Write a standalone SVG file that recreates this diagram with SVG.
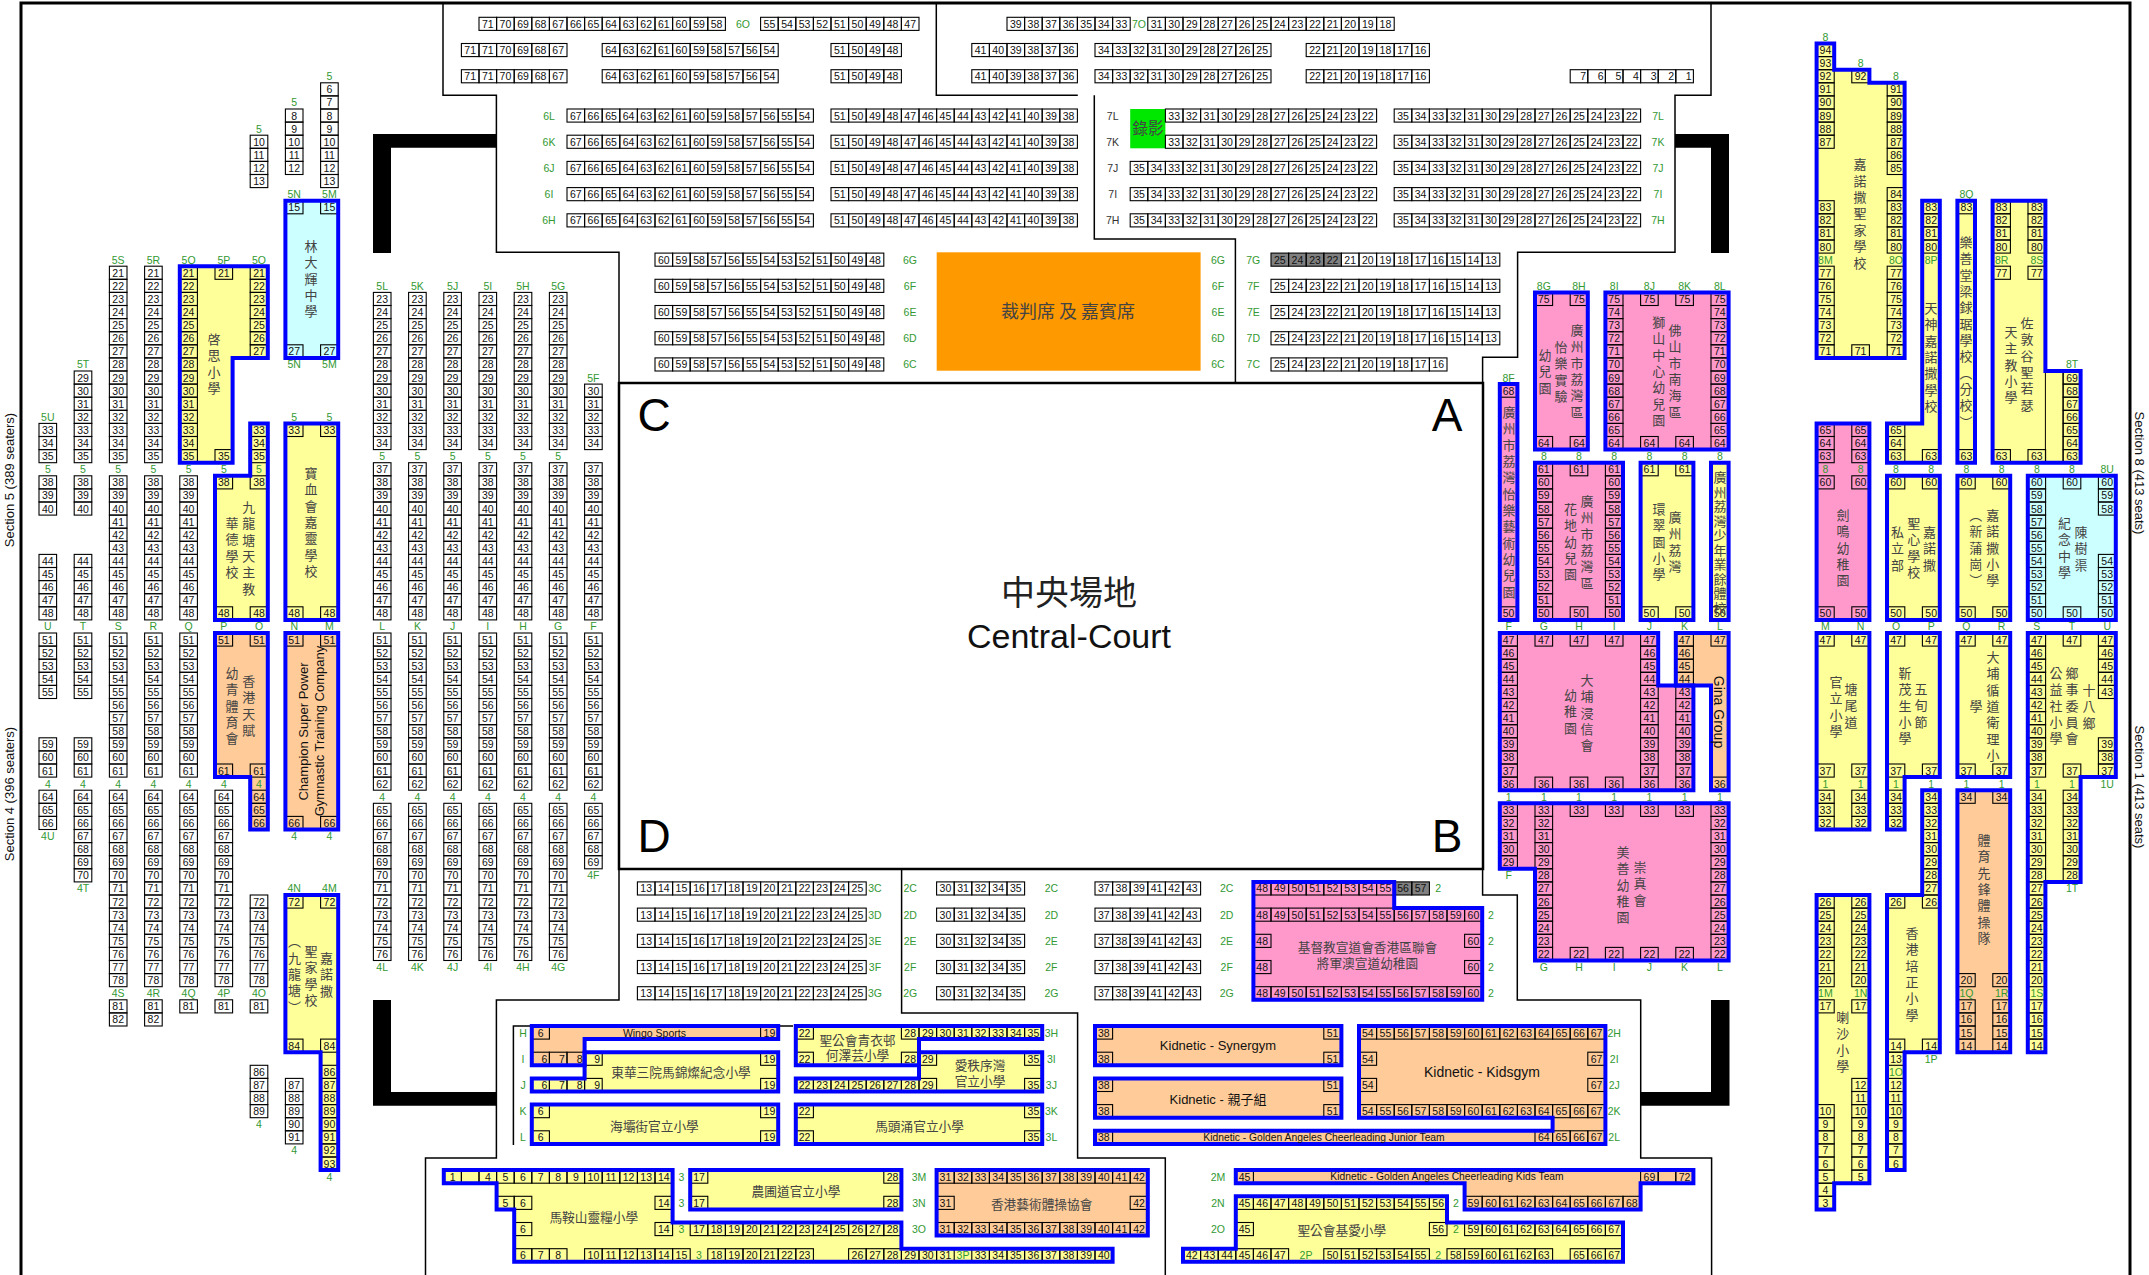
<svg xmlns="http://www.w3.org/2000/svg" width="2149" height="1275" viewBox="0 0 2149 1275">
<style>
text{font:10.5px "Liberation Sans",Arial,sans-serif;text-anchor:middle;fill:#111}
.l{fill:#339933}
.d{fill:#333}
.v rect,.h rect{width:17.6px;height:13.1px;fill:none;stroke:#000;stroke-width:1.1}
.v rect{x:-8.8px}
.h rect{y:-10.5px}
.z,.k{font-family:"Noto Sans CJK TC",sans-serif;fill:#444}
.z{font-size:13px;writing-mode:vertical-rl;letter-spacing:3.35px;text-anchor:start}
.k{font-size:12.7px}
.e{font-size:13px}
.w{fill:none;stroke:#000;stroke-width:1.5}
.t{fill:none;stroke:#00f;stroke-width:4}
</style>
<defs>
<g class="v">
<g id="a6"><rect y="82.8"/><text y="93.3">6</text><rect y="95.9"/><text y="106.4">7</text></g>
<g id="a8"><rect y="109"/><text y="119.5">8</text><rect y="122.1"/><text y="132.6">9</text></g>
<g id="a10"><rect y="135.2"/><text y="145.7">10</text><rect y="148.3"/><text y="158.8">11</text><rect y="161.4"/><text y="171.9">12</text></g>
<g id="a13"><rect y="174.5"/><text y="185">13</text></g>
<g id="a15"><rect y="200.7"/><text y="211.2">15</text></g>
<g id="a21"><rect y="266.2"/><text y="276.7">21</text></g>
<g id="a22"><rect y="279.3"/><text y="289.8">22</text></g>
<g id="a23"><rect y="292.4"/><text y="302.9">23</text><rect y="305.5"/><text y="316">24</text><rect y="318.6"/><text y="329.1">25</text><rect y="331.7"/><text y="342.2">26</text></g>
<g id="a27"><rect y="344.8"/><text y="355.3">27</text></g>
<g id="a28"><rect y="357.9"/><text y="368.4">28</text></g>
<g id="a29"><rect y="371"/><text y="381.5">29</text></g>
<g id="a30"><rect y="384.1"/><text y="394.6">30</text><rect y="397.2"/><text y="407.7">31</text><rect y="410.3"/><text y="420.8">32</text></g>
<g id="a33"><rect y="423.4"/><text y="433.9">33</text></g>
<g id="a34"><rect y="436.5"/><text y="447">34</text></g>
<g id="a35"><rect y="449.6"/><text y="460.1">35</text></g>
<g id="a37"><rect y="462.7"/><text y="473.2">37</text></g>
<g id="a38"><rect y="475.8"/><text y="486.3">38</text></g>
<g id="a39"><rect y="488.9"/><text y="499.4">39</text><rect y="502"/><text y="512.5">40</text></g>
<g id="a41"><rect y="515.1"/><text y="525.6">41</text><rect y="528.2"/><text y="538.7">42</text><rect y="541.3"/><text y="551.8">43</text></g>
<g id="a44"><rect y="554.4"/><text y="564.9">44</text><rect y="567.5"/><text y="578">45</text><rect y="580.6"/><text y="591.1">46</text><rect y="593.7"/><text y="604.2">47</text></g>
<g id="a48"><rect y="606.8"/><text y="617.3">48</text></g>
<g id="a51"><rect y="633"/><text y="643.5">51</text></g>
<g id="a52"><rect y="646.1"/><text y="656.6">52</text><rect y="659.2"/><text y="669.7">53</text><rect y="672.3"/><text y="682.8">54</text><rect y="685.4"/><text y="695.9">55</text></g>
<g id="a56"><rect y="698.5"/><text y="709">56</text><rect y="711.6"/><text y="722.1">57</text><rect y="724.7"/><text y="735.2">58</text></g>
<g id="a59"><rect y="737.8"/><text y="748.3">59</text><rect y="750.9"/><text y="761.4">60</text></g>
<g id="a61"><rect y="764"/><text y="774.5">61</text></g>
<g id="a62"><rect y="777.1"/><text y="787.6">62</text></g>
<g id="a64"><rect y="790.2"/><text y="800.7">64</text></g>
<g id="a65"><rect y="803.3"/><text y="813.8">65</text></g>
<g id="a66"><rect y="816.4"/><text y="826.9">66</text></g>
<g id="a67"><rect y="829.5"/><text y="840">67</text><rect y="842.6"/><text y="853.1">68</text><rect y="855.7"/><text y="866.2">69</text></g>
<g id="a70"><rect y="868.8"/><text y="879.3">70</text></g>
<g id="a71"><rect y="881.9"/><text y="892.4">71</text></g>
<g id="a72"><rect y="895"/><text y="905.5">72</text></g>
<g id="a73"><rect y="908.1"/><text y="918.6">73</text><rect y="921.2"/><text y="931.7">74</text><rect y="934.3"/><text y="944.8">75</text><rect y="947.4"/><text y="957.9">76</text></g>
<g id="a77"><rect y="960.5"/><text y="971">77</text><rect y="973.6"/><text y="984.1">78</text></g>
<g id="a81"><rect y="999.8"/><text y="1010.3">81</text></g>
<g id="a82"><rect y="1012.9"/><text y="1023.4">82</text></g>
<g id="a84"><rect y="1039.1"/><text y="1049.6">84</text></g>
<g id="a86"><rect y="1065.3"/><text y="1075.8">86</text></g>
<g id="a87"><rect y="1078.4"/><text y="1088.9">87</text><rect y="1091.5"/><text y="1102">88</text><rect y="1104.6"/><text y="1115.1">89</text></g>
<g id="a90"><rect y="1117.7"/><text y="1128.2">90</text><rect y="1130.8"/><text y="1141.3">91</text></g>
<g id="a92"><rect y="1143.9"/><text y="1154.4">92</text><rect y="1157"/><text y="1167.5">93</text></g>
<g id="m"><use href="#a38"/><use href="#a39"/><use href="#a41"/><use href="#a44"/><use href="#a48"/></g>
<g id="n"><use href="#a51"/><use href="#a52"/><use href="#a56"/><use href="#a59"/><use href="#a61"/></g>
<g id="o"><use href="#a65"/><use href="#a66"/><use href="#a67"/><use href="#a70"/><use href="#a71"/><use href="#a72"/><use href="#a73"/></g>
<g id="x"><use href="#a21"/><use href="#a22"/><use href="#a23"/><use href="#a27"/><use href="#a28"/><use href="#a29"/><use href="#a30"/><use href="#a33"/><use href="#a34"/><use href="#a35"/></g>
<g id="k"><use href="#a23"/><use href="#a27"/><use href="#a28"/><use href="#a29"/><use href="#a30"/><use href="#a33"/><use href="#a34"/><use href="#a37"/><use href="#m"/><use href="#n"/><use href="#a62"/><use href="#o"/></g>
<g id="ra"><rect y="43.5"/><text y="54">94</text><rect y="56.6"/><text y="67.1">93</text></g>
<g id="rb"><rect y="69.7"/><text y="80.2">92</text></g>
<g id="rc"><rect y="82.8"/><text y="93.3">91</text><rect y="95.9"/><text y="106.4">90</text><rect y="109"/><text y="119.5">89</text><rect y="122.1"/><text y="132.6">88</text><rect y="135.2"/><text y="145.7">87</text></g>
<g id="rd"><rect y="148.3"/><text y="158.8">86</text><rect y="161.4"/><text y="171.9">85</text></g>
<g id="re"><rect y="187.6"/><text y="198.1">84</text></g>
<g id="rf"><rect y="200.7"/><text y="211.2">83</text></g>
<g id="rg"><rect y="213.8"/><text y="224.3">82</text><rect y="226.9"/><text y="237.4">81</text><rect y="240"/><text y="250.5">80</text></g>
<g id="rh"><rect y="266.2"/><text y="276.7">77</text></g>
<g id="ri"><rect y="279.3"/><text y="289.8">76</text></g>
<g id="rj"><rect y="292.4"/><text y="302.9">75</text></g>
<g id="rk"><rect y="305.5"/><text y="316">74</text><rect y="318.6"/><text y="329.1">73</text><rect y="331.7"/><text y="342.2">72</text></g>
<g id="rl"><rect y="344.8"/><text y="355.3">71</text></g>
<g id="rm"><rect y="357.9"/><text y="368.4">70</text></g>
<g id="rn"><rect y="371"/><text y="381.5">69</text><rect y="384.1"/><text y="394.6">68</text><rect y="397.2"/><text y="407.7">67</text><rect y="410.3"/><text y="420.8">66</text></g>
<g id="ro"><rect y="423.4"/><text y="433.9">65</text></g>
<g id="rp"><rect y="436.5"/><text y="447">64</text></g>
<g id="rq"><rect y="449.6"/><text y="460.1">63</text></g>
<g id="rr"><rect y="462.7"/><text y="473.2">61</text></g>
<g id="rs"><rect y="475.8"/><text y="486.3">60</text></g>
<g id="rt"><rect y="488.9"/><text y="499.4">59</text><rect y="502"/><text y="512.5">58</text></g>
<g id="ru"><rect y="515.1"/><text y="525.6">57</text><rect y="528.2"/><text y="538.7">56</text><rect y="541.3"/><text y="551.8">55</text></g>
<g id="rv"><rect y="554.4"/><text y="564.9">54</text><rect y="567.5"/><text y="578">53</text><rect y="580.6"/><text y="591.1">52</text><rect y="593.7"/><text y="604.2">51</text></g>
<g id="rw"><rect y="606.8"/><text y="617.3">50</text></g>
<g id="rx"><rect y="633"/><text y="643.5">47</text></g>
<g id="ry"><rect y="646.1"/><text y="656.6">46</text><rect y="659.2"/><text y="669.7">45</text><rect y="672.3"/><text y="682.8">44</text><rect y="685.4"/><text y="695.9">43</text></g>
<g id="rz"><rect y="698.5"/><text y="709">42</text><rect y="711.6"/><text y="722.1">41</text><rect y="724.7"/><text y="735.2">40</text></g>
<g id="r1"><rect y="737.8"/><text y="748.3">39</text><rect y="750.9"/><text y="761.4">38</text></g>
<g id="r2"><rect y="764"/><text y="774.5">37</text></g>
<g id="r3"><rect y="777.1"/><text y="787.6">36</text></g>
<g id="r4"><rect y="790.2"/><text y="800.7">34</text></g>
<g id="r5"><rect y="803.3"/><text y="813.8">33</text></g>
<g id="r6"><rect y="816.4"/><text y="826.9">32</text></g>
<g id="r6b"><rect y="829.5"/><text y="840">31</text><rect y="842.6"/><text y="853.1">30</text><rect y="855.7"/><text y="866.2">29</text></g>
<g id="r7"><rect y="868.8"/><text y="879.3">28</text></g>
<g id="r8"><rect y="881.9"/><text y="892.4">27</text></g>
<g id="r9"><rect y="895"/><text y="905.5">26</text></g>
<g id="r10"><rect y="908.1"/><text y="918.6">25</text><rect y="921.2"/><text y="931.7">24</text><rect y="934.3"/><text y="944.8">23</text></g>
<g id="r11"><rect y="947.4"/><text y="957.9">22</text></g>
<g id="r12"><rect y="960.5"/><text y="971">21</text></g>
<g id="r12b"><rect y="973.6"/><text y="984.1">20</text></g>
<g id="r13"><rect y="999.8"/><text y="1010.3">17</text></g>
<g id="r13b"><rect y="1012.9"/><text y="1023.4">16</text><rect y="1026"/><text y="1036.5">15</text></g>
<g id="r14"><rect y="1039.1"/><text y="1049.6">14</text></g>
<g id="r15"><rect y="1052.2"/><text y="1062.7">13</text></g>
<g id="r16"><rect y="1078.4"/><text y="1088.9">12</text><rect y="1091.5"/><text y="1102">11</text></g>
<g id="r17"><rect y="1104.6"/><text y="1115.1">10</text><rect y="1117.7"/><text y="1128.2">9</text><rect y="1130.8"/><text y="1141.3">8</text><rect y="1143.9"/><text y="1154.4">7</text><rect y="1157"/><text y="1167.5">6</text></g>
<g id="r18"><rect y="1170.1"/><text y="1180.6">5</text></g>
<g id="r19"><rect y="1183.2"/><text y="1193.7">4</text><rect y="1196.3"/><text y="1206.8">3</text></g>
<g id="t75"><use href="#rj"/><use href="#rk"/><use href="#rl"/><use href="#rm"/><use href="#rn"/><use href="#ro"/><use href="#rp"/></g>
<g id="t60"><use href="#rs"/><use href="#rt"/><use href="#ru"/><use href="#rv"/><use href="#rw"/></g>
<g id="t47"><use href="#rx"/><use href="#ry"/><use href="#rz"/><use href="#r1"/><use href="#r2"/><use href="#r3"/></g>
<g id="t33"><use href="#r5"/><use href="#r6"/><use href="#r6b"/><use href="#r7"/><use href="#r8"/><use href="#r9"/><use href="#r10"/><use href="#r11"/></g>
</g>
<g class="h">
<rect id="w1"/>
<g id="w2"><rect/><rect x="17.6"/></g>
<g id="w3"><use href="#w2"/><rect x="35.2"/></g>
<g id="w4"><use href="#w2"/><use href="#w2" x="35.2"/></g>
<g id="w5"><use href="#w4"/><rect x="70.4"/></g>
<g id="w6"><use href="#w4"/><use href="#w2" x="70.4"/></g>
<g id="w7"><use href="#w6"/><rect x="105.6"/></g>
<g id="w8"><use href="#w4"/><use href="#w4" x="70.4"/></g>
<g id="w9"><use href="#w8"/><rect x="140.8"/></g>
<g id="w10"><use href="#w4"/><use href="#w6" x="70.4"/></g>
<g id="w12"><use href="#w6"/><use href="#w6" x="105.6"/></g>
<g id="w13"><use href="#w12"/><rect x="211.2"/></g>
<g id="w14"><use href="#w12"/><use href="#w2" x="211.2"/></g>
<g id="h1"><use href="#w14"/><text x="8.8">71</text><text x="26.4">70</text><text x="44">69</text><text x="61.6">68</text><text x="79.2">67</text><text x="96.8">66</text><text x="114.4">65</text><text x="132">64</text><text x="149.6">63</text><text x="167.2">62</text><text x="184.8">61</text><text x="202.4">60</text><text x="220">59</text><text x="237.6">58</text></g>
<g id="h1b"><use href="#w9"/><text x="8.8">55</text><text x="26.4">54</text><text x="44">53</text><text x="61.6">52</text><text x="79.2">51</text><text x="96.8">50</text><text x="114.4">49</text><text x="132">48</text><text x="149.6">47</text></g>
<g id="h39"><use href="#w7"/><text x="8.8">39</text><text x="26.4">38</text><text x="44">37</text><text x="61.6">36</text><text x="79.2">35</text><text x="96.8">34</text><text x="114.4">33</text></g>
<g id="h31"><use href="#w14"/><text x="8.8">31</text><text x="26.4">30</text><text x="44">29</text><text x="61.6">28</text><text x="79.2">27</text><text x="96.8">26</text><text x="114.4">25</text><text x="132">24</text><text x="149.6">23</text><text x="167.2">22</text><text x="184.8">21</text><text x="202.4">20</text><text x="220">19</text><text x="237.6">18</text></g>
<g id="h2"><use href="#w6"/><text x="8.8">71</text><text x="26.4">71</text><text x="44">70</text><text x="61.6">69</text><text x="79.2">68</text><text x="96.8">67</text></g>
<g id="h3"><use href="#w10"/><text x="8.8">64</text><text x="26.4">63</text><text x="44">62</text><text x="61.6">61</text><text x="79.2">60</text><text x="96.8">59</text><text x="114.4">58</text><text x="132">57</text><text x="149.6">56</text><text x="167.2">54</text></g>
<g id="h4"><use href="#w4"/><text x="8.8">51</text><text x="26.4">50</text><text x="44">49</text><text x="61.6">48</text></g>
<g id="h5"><use href="#w6"/><text x="8.8">41</text><text x="26.4">40</text><text x="44">39</text><text x="61.6">38</text><text x="79.2">37</text><text x="96.8">36</text></g>
<g id="h6"><use href="#w10"/><text x="8.8">34</text><text x="26.4">33</text><text x="44">32</text><text x="61.6">31</text><text x="79.2">30</text><text x="96.8">29</text><text x="114.4">28</text><text x="132">27</text><text x="149.6">26</text><text x="167.2">25</text></g>
<g id="h7"><use href="#w7"/><text x="8.8">22</text><text x="26.4">21</text><text x="44">20</text><text x="61.6">19</text><text x="79.2">18</text><text x="96.8">17</text><text x="114.4">16</text></g>
<g id="h8"><use href="#w7"/><text x="13">7</text><text x="30.6">6</text><text x="48.2">5</text><text x="65.8">4</text><text x="83.4">3</text><text x="101">2</text><text x="118.6">1</text></g>
<g id="r2x"><use href="#h2" x="461.4"/><use href="#h3" x="602.2"/><use href="#h4" x="831"/><use href="#h5" x="971.8"/><use href="#h6" x="1095"/><use href="#h7" x="1306.2"/></g>
<g id="h9"><use href="#w14"/><text x="8.8">67</text><text x="26.4">66</text><text x="44">65</text><text x="61.6">64</text><text x="79.2">63</text><text x="96.8">62</text><text x="114.4">61</text><text x="132">60</text><text x="149.6">59</text><text x="167.2">58</text><text x="184.8">57</text><text x="202.4">56</text><text x="220">55</text><text x="237.6">54</text></g>
<g id="h10"><use href="#w14"/><text x="8.8">51</text><text x="26.4">50</text><text x="44">49</text><text x="61.6">48</text><text x="79.2">47</text><text x="96.8">46</text><text x="114.4">45</text><text x="132">44</text><text x="149.6">43</text><text x="167.2">42</text><text x="184.8">41</text><text x="202.4">40</text><text x="220">39</text><text x="237.6">38</text></g>
<g id="h33"><use href="#w12"/><text x="8.8">33</text><text x="26.4">32</text><text x="44">31</text><text x="61.6">30</text><text x="79.2">29</text><text x="96.8">28</text><text x="114.4">27</text><text x="132">26</text><text x="149.6">25</text><text x="167.2">24</text><text x="184.8">23</text><text x="202.4">22</text></g>
<g id="h35"><use href="#w2"/><text x="8.8">35</text><text x="26.4">34</text><use href="#h33" x="35.2"/></g>
<g id="h12"><use href="#w13"/><text x="8.8">60</text><text x="26.4">59</text><text x="44">58</text><text x="61.6">57</text><text x="79.2">56</text><text x="96.8">55</text><text x="114.4">54</text><text x="132">53</text><text x="149.6">52</text><text x="167.2">51</text><text x="184.8">50</text><text x="202.4">49</text><text x="220">48</text></g>
<g id="h25"><use href="#w10"/><text x="8.8">25</text><text x="26.4">24</text><text x="44">23</text><text x="61.6">22</text><text x="79.2">21</text><text x="96.8">20</text><text x="114.4">19</text><text x="132">18</text><text x="149.6">17</text><text x="167.2">16</text></g>
<g id="h13"><use href="#w3"/><text x="8.8">15</text><text x="26.4">14</text><text x="44">13</text></g>
<g id="h15"><use href="#w13"/><text x="8.8">13</text><text x="26.4">14</text><text x="44">15</text><text x="61.6">16</text><text x="79.2">17</text><text x="96.8">18</text><text x="114.4">19</text><text x="132">20</text><text x="149.6">21</text><text x="167.2">22</text><text x="184.8">23</text><text x="202.4">24</text><text x="220">25</text></g>
<g id="h30"><use href="#w5"/><text x="8.8">30</text><text x="26.4">31</text><text x="44">32</text><text x="61.6">34</text><text x="79.2">35</text></g>
<g id="h37"><use href="#w6"/><text x="8.8">37</text><text x="26.4">38</text><text x="44">39</text><text x="61.6">41</text><text x="79.2">42</text><text x="96.8">43</text></g>
<g id="mid"><use href="#h15" x="637.4"/><use href="#h30" x="936.6"/><use href="#h37" x="1095"/></g>
<g id="h48"><use href="#w8"/><text x="8.8">48</text><text x="26.4">49</text><text x="44">50</text><text x="61.6">51</text><text x="79.2">52</text><text x="96.8">53</text><text x="114.4">54</text><text x="132">55</text></g>
<g id="h56"><use href="#w2"/><text x="8.8">56</text><text x="26.4">57</text></g>
<g id="h58"><use href="#w3"/><text x="8.8">58</text><text x="26.4">59</text><text x="44">60</text></g>
<g id="h54"><use href="#w14"/><text x="8.8">54</text><text x="26.4">55</text><text x="44">56</text><text x="61.6">57</text><text x="79.2">58</text><text x="96.8">59</text><text x="114.4">60</text><text x="132">61</text><text x="149.6">62</text><text x="167.2">63</text><text x="184.8">64</text><text x="202.4">65</text><text x="220">66</text><text x="237.6">67</text></g>
<g id="h31b"><use href="#w12"/><text x="8.8">31</text><text x="26.4">32</text><text x="44">33</text><text x="61.6">34</text><text x="79.2">35</text><text x="96.8">36</text><text x="114.4">37</text><text x="132">38</text><text x="149.6">39</text><text x="167.2">40</text><text x="184.8">41</text><text x="202.4">42</text></g>
<g id="j6"><use href="#w4"/><text x="12.6">6</text><text x="30.2">7</text><text x="47.8">8</text><text x="65.4">9</text></g>
<g id="s6"><rect x="531.8"/><text x="540.6">6</text></g>
<g id="s19"><rect x="760.6"/><text x="769.4">19</text></g>
<g id="s22"><rect x="795.8"/><text x="804.6">22</text></g>
<g id="s35"><rect x="1024.6"/><text x="1033.4">35</text></g>
<g id="s38"><rect x="1095"/><text x="1103.8">38</text></g>
<g id="s51"><rect x="1323.8"/><text x="1332.6">51</text></g>
<g id="s54"><rect x="1359"/><text x="1367.8">54</text></g>
<g id="s67"><rect x="1587.8"/><text x="1596.6">67</text></g>
</g>
<g id="by">
<path d="M179.8 266.2H267.8V357.9H232.6V462.7H179.8Z"/>
<path d="M250.2 423.4H267.8V619.9H215V475.8H250.2Z"/>
<path d="M285.4 423.4H338.2V619.9H285.4Z"/>
<path d="M285.4 895H338.2V1170.1H320.6V1052.2H285.4Z"/>
<path d="M584.6 1052.2H778.2V1091.5H531.8V1078.4H584.6Z"/>
<path d="M531.8 1104.6H778.2V1143.9H531.8Z"/>
<path d="M795.8 1026H1042.2V1039.1H919V1065.3H795.8Z"/>
<path d="M919 1052.2H1042.2V1091.5H795.8V1078.4H919Z"/>
<path d="M795.8 1104.6H1042.2V1143.9H795.8Z"/>
<path d="M443.8 1170.1H672.6V1222.5H901.4V1248.7H1112.6V1261.8H514.2V1209.4H496.6V1183.2H443.8Z"/>
<path d="M690.2 1170.1H901.4V1209.4H690.2Z"/>
<path d="M1235.8 1196.3H1447V1222.5H1623V1261.8H1183V1248.7H1235.8Z"/>
<path d="M1640.6 462.7H1693.4V619.9H1640.6Z"/>
<path d="M1711 462.7H1728.6V619.9H1711Z"/>
<path d="M1816.6 43.5H1834.2V69.7H1869.4V82.8H1904.6V357.9H1816.6Z"/>
<path d="M1922.2 200.7H1939.8V462.7H1887V423.4H1922.2Z"/>
<path d="M1957.4 200.7H1975V462.7H1957.4Z"/>
<path d="M1992.6 200.7H2045.4V371H2080.6V462.7H1992.6Z"/>
<path d="M1887 475.8H1939.8V619.9H1887Z"/>
<path d="M1957.4 475.8H2010.2V619.9H1957.4Z"/>
<path d="M1816.6 633H1869.4V829.5H1816.6Z"/>
<path d="M1887 633H1939.8V777.1H1904.6V829.5H1887Z"/>
<path d="M1922.2 790.2H1939.8V1052.2H1904.6V1170.1H1887V895H1922.2Z"/>
<path d="M1957.4 633H2010.2V777.1H1957.4Z"/>
<path d="M2027.8 633H2115.8V777.1H2080.6V881.9H2045.4V1052.2H2027.8Z"/>
<path d="M1816.6 895H1869.4V1183.2H1834.2V1209.4H1816.6Z"/>
</g>
<g id="bp">
<path d="M1535 292.4H1587.8V449.6H1535Z"/>
<path d="M1605.4 292.4H1728.6V449.6H1605.4Z"/>
<path d="M1499.8 384.1H1517.4V619.9H1499.8Z"/>
<path d="M1535 462.7H1623V619.9H1535Z"/>
<path d="M1499.8 633H1658.2V685.4H1693.4V790.2H1499.8Z"/>
<path d="M1499.8 803.3H1728.6V960.5H1535V868.8H1499.8Z"/>
<path d="M1816.6 423.4H1869.4V619.9H1816.6Z"/>
<path d="M1253.4 881.9H1394.2V908.1H1482.2V999.8H1253.4Z"/>
</g>
<g id="bo">
<path d="M215 633H267.8V829.5H250.2V777.1H215Z"/>
<path d="M285.4 633H338.2V829.5H285.4Z"/>
<path d="M1675.8 633H1728.6V790.2H1711V685.4H1675.8Z"/>
<path d="M1957.4 790.2H2010.2V1052.2H1957.4Z"/>
<path d="M531.8 1026H778.2V1039.1H584.6V1065.3H531.8Z"/>
<path d="M1095 1026H1341.4V1065.3H1095Z"/>
<path d="M1095 1078.4H1341.4V1117.7H1095Z"/>
<path d="M1359 1026H1605.4V1143.9H1095V1130.8H1552.6V1117.7H1359Z"/>
<path d="M936.6 1170.1H1147.8V1235.6H936.6Z"/>
<path d="M1235.8 1170.1H1693.4V1183.2H1640.6V1209.4H1464.6V1183.2H1235.8Z"/>
</g>
<g id="bc">
<path d="M285.4 200.7H338.2V357.9H285.4Z"/>
<path d="M2027.8 475.8H2115.8V619.9H2027.8Z"/>
</g>
</defs>

<g id="walls">
<path d="M21 1275V3H2130V1275" fill="none" stroke="#000" stroke-width="3"/>
<path class="w" d="M443 3V95.3H496.4V252.3H619V383M936.3 3V95.3H1077.8M1094.3 95.3V239H1235.4V383M1711 3V95.3H1675V252.3H1517.6V357.3H1482.6V383M619 869V1000H496.4V1158H425.5V1275M901.6 869V1013H1077.6V1158H1165.3V1275M1482.6 869V895H1517.3V1000H1640.7V1158H1711.6V1275M513.4 1145V1026H793"/>
<rect x="619" y="383" width="864" height="486" fill="none" stroke="#000" stroke-width="2.5"/>
<path d="M373 134H496V147.7H391V253H373ZM1675 134H1729V253H1711V147.7H1675ZM373 1000H391V1092H496V1105.7H373ZM1711 1000H1729.5V1105.7H1640V1092H1711Z"/>
</g>

<g id="fills">
<use href="#by" fill="#ffff99"/>
<use href="#bp" fill="#ff99cc"/>
<use href="#bo" fill="#ffcc99"/>
<use href="#bc" fill="#ccffff"/>
<rect x="936.7" y="252.3" width="263.9" height="118.4" fill="#ff9900"/>
<rect x="1130.2" y="109" width="35.2" height="39.3" fill="#00e800"/>
<rect x="1271" y="253.1" width="70.4" height="13.1" fill="#808080"/>
<rect x="1394.2" y="881.9" width="35.2" height="13.1" fill="#808080"/>
</g>

<g id="seats-left">
<g transform="translate(47.8 0)"><use href="#a33"/><use href="#a34"/><use href="#a35"/><use href="#a38"/><use href="#a39"/><use href="#a44"/><use href="#a48"/><use href="#a51"/><use href="#a52"/><use href="#a59"/><use href="#a61"/><use href="#a64"/><use href="#a65"/><use href="#a66"/><text class="l" y="420.8">5U</text><text class="l" y="473.2">5</text><text class="l" y="630.4">U</text><text class="l" y="787.6">4</text><text class="l" y="840">4U</text></g>
<g transform="translate(83 0)"><use href="#a29"/><use href="#a30"/><use href="#a33"/><use href="#a34"/><use href="#a35"/><use href="#a38"/><use href="#a39"/><use href="#a44"/><use href="#a48"/><use href="#a51"/><use href="#a52"/><use href="#a59"/><use href="#a61"/><use href="#a64"/><use href="#a65"/><use href="#a66"/><use href="#a67"/><use href="#a70"/><text class="l" y="368.4">5T</text><text class="l" y="473.2">5</text><text class="l" y="630.4">T</text><text class="l" y="787.6">4</text><text class="l" y="892.4">4T</text></g>
<g transform="translate(118.2 0)"><use href="#x"/><use href="#m"/><use href="#n"/><use href="#a64"/><use href="#o"/><use href="#a77"/><use href="#a81"/><use href="#a82"/><text class="l" y="263.6">5S</text><text class="l" y="473.2">5</text><text class="l" y="630.4">S</text><text class="l" y="787.6">4</text><text class="l" y="997.2">4S</text></g>
<g transform="translate(153.4 0)"><use href="#x"/><use href="#m"/><use href="#n"/><use href="#a64"/><use href="#o"/><use href="#a77"/><use href="#a81"/><use href="#a82"/><text class="l" y="263.6">5R</text><text class="l" y="473.2">5</text><text class="l" y="630.4">R</text><text class="l" y="787.6">4</text><text class="l" y="997.2">4R</text></g>
<g transform="translate(188.6 0)"><use href="#x"/><use href="#m"/><use href="#n"/><use href="#a64"/><use href="#o"/><use href="#a77"/><use href="#a81"/><text class="l" y="263.6">5Q</text><text class="l" y="473.2">5</text><text class="l" y="630.4">Q</text><text class="l" y="787.6">4</text><text class="l" y="997.2">4Q</text></g>
<g transform="translate(223.8 0)"><use href="#a21"/><use href="#a35"/><use href="#a38"/><use href="#a48"/><use href="#a51"/><use href="#a61"/><use href="#a64"/><use href="#o"/><use href="#a77"/><use href="#a81"/><text class="l" y="263.6">5P</text><text class="l" y="473.2">5</text><text class="l" y="630.4">P</text><text class="l" y="787.6">4</text><text class="l" y="997.2">4P</text></g>
<g transform="translate(259 0)"><use href="#a10"/><use href="#a13"/><use href="#a21"/><use href="#a22"/><use href="#a23"/><use href="#a27"/><use href="#a33"/><use href="#a34"/><use href="#a35"/><use href="#a38"/><use href="#a48"/><use href="#a51"/><use href="#a61"/><use href="#a64"/><use href="#a65"/><use href="#a66"/><use href="#a72"/><use href="#a73"/><use href="#a77"/><use href="#a81"/><use href="#a86"/><use href="#a87"/><text class="l" y="132.6">5</text><text class="l" y="263.6">5O</text><text class="l" y="473.2">5</text><text class="l" y="630.4">O</text><text class="l" y="787.6">4</text><text class="l" y="997.2">4O</text><text class="l" y="1128.2">4</text></g>
<g transform="translate(294.2 0)"><use href="#a8"/><use href="#a10"/><use href="#a15"/><use href="#a27"/><use href="#a33"/><use href="#a48"/><use href="#a51"/><use href="#a66"/><use href="#a72"/><use href="#a84"/><use href="#a87"/><use href="#a90"/><text class="l" y="106.4">5</text><text class="l" y="198.1">5N</text><text class="l" y="368.4">5N</text><text class="l" y="420.8">5</text><text class="l" y="630.4">N</text><text class="l" y="840">4</text><text class="l" y="892.4">4N</text><text class="l" y="1154.4">4</text></g>
<g transform="translate(329.4 0)"><use href="#a6"/><use href="#a8"/><use href="#a10"/><use href="#a13"/><use href="#a15"/><use href="#a27"/><use href="#a33"/><use href="#a48"/><use href="#a51"/><use href="#a66"/><use href="#a72"/><use href="#a84"/><use href="#a86"/><use href="#a87"/><use href="#a90"/><use href="#a92"/><text class="l" y="80.2">5</text><text class="l" y="198.1">5M</text><text class="l" y="368.4">5M</text><text class="l" y="420.8">5</text><text class="l" y="630.4">M</text><text class="l" y="840">4</text><text class="l" y="892.4">4M</text><text class="l" y="1180.6">4</text></g>
<g transform="translate(382.2 0)"><use href="#k"/><text class="l" y="289.8">5L</text><text class="l" y="460.1">5</text><text class="l" y="630.4">L</text><text class="l" y="800.7">4</text><text class="l" y="971">4L</text></g>
<g transform="translate(417.4 0)"><use href="#k"/><text class="l" y="289.8">5K</text><text class="l" y="460.1">5</text><text class="l" y="630.4">K</text><text class="l" y="800.7">4</text><text class="l" y="971">4K</text></g>
<g transform="translate(452.6 0)"><use href="#k"/><text class="l" y="289.8">5J</text><text class="l" y="460.1">5</text><text class="l" y="630.4">J</text><text class="l" y="800.7">4</text><text class="l" y="971">4J</text></g>
<g transform="translate(487.8 0)"><use href="#k"/><text class="l" y="289.8">5I</text><text class="l" y="460.1">5</text><text class="l" y="630.4">I</text><text class="l" y="800.7">4</text><text class="l" y="971">4I</text></g>
<g transform="translate(523 0)"><use href="#k"/><text class="l" y="289.8">5H</text><text class="l" y="460.1">5</text><text class="l" y="630.4">H</text><text class="l" y="800.7">4</text><text class="l" y="971">4H</text></g>
<g transform="translate(558.2 0)"><use href="#k"/><text class="l" y="289.8">5G</text><text class="l" y="460.1">5</text><text class="l" y="630.4">G</text><text class="l" y="800.7">4</text><text class="l" y="971">4G</text></g>
<g transform="translate(593.4 0)"><use href="#a30"/><use href="#a33"/><use href="#a34"/><use href="#a37"/><use href="#m"/><use href="#n"/><use href="#a62"/><use href="#a65"/><use href="#a66"/><use href="#a67"/><text class="l" y="381.5">5F</text><text class="l" y="630.4">F</text><text class="l" y="800.7">4</text><text class="l" y="879.3">4F</text></g>
</g>

<g id="seats-right">
<g transform="translate(1508.6 0)"><g class="v"><rect y="384.1"/><text y="394.6">68</text></g><use href="#rw"/><use href="#t47"/><use href="#r5"/><use href="#r6"/><use href="#r6b"/><text class="l" y="381.5">8F</text><text class="l" y="630.4">F</text><text class="l" y="800.7">1</text><text class="l" y="879.3">F</text></g>
<g transform="translate(1543.8 0)"><use href="#rj"/><use href="#rp"/><use href="#rr"/><use href="#t60"/><use href="#rx"/><use href="#r3"/><use href="#t33"/><text class="l" y="289.8">8G</text><text class="l" y="460.1">8</text><text class="l" y="630.4">G</text><text class="l" y="800.7">1</text><text class="l" y="971">G</text></g>
<g transform="translate(1579 0)"><use href="#rj"/><use href="#rp"/><use href="#rr"/><use href="#rw"/><use href="#rx"/><use href="#r3"/><use href="#r5"/><use href="#r11"/><text class="l" y="289.8">8H</text><text class="l" y="460.1">8</text><text class="l" y="630.4">H</text><text class="l" y="800.7">1</text><text class="l" y="971">H</text></g>
<g transform="translate(1614.2 0)"><use href="#t75"/><use href="#rr"/><use href="#t60"/><use href="#rx"/><use href="#r3"/><use href="#r5"/><use href="#r11"/><text class="l" y="289.8">8I</text><text class="l" y="460.1">8</text><text class="l" y="630.4">I</text><text class="l" y="800.7">1</text><text class="l" y="971">I</text></g>
<g transform="translate(1649.4 0)"><use href="#rj"/><use href="#rp"/><use href="#rr"/><use href="#rw"/><use href="#t47"/><use href="#r5"/><use href="#r11"/><text class="l" y="289.8">8J</text><text class="l" y="460.1">8</text><text class="l" y="630.4">J</text><text class="l" y="800.7">1</text><text class="l" y="971">J</text></g>
<g transform="translate(1684.6 0)"><use href="#rj"/><use href="#rp"/><use href="#rr"/><use href="#rw"/><use href="#t47"/><use href="#r5"/><use href="#r11"/><text class="l" y="289.8">8K</text><text class="l" y="460.1">8</text><text class="l" y="630.4">K</text><text class="l" y="800.7">1</text><text class="l" y="971">K</text></g>
<g transform="translate(1719.8 0)"><use href="#t75"/><use href="#rw"/><use href="#rx"/><use href="#r3"/><use href="#t33"/><text class="l" y="289.8">8L</text><text class="l" y="460.1">8</text><text class="l" y="630.4">L</text><text class="l" y="800.7">1</text><text class="l" y="971">L</text></g>
<g transform="translate(1825.4 0)"><use href="#ra"/><use href="#rb"/><use href="#rc"/><use href="#rf"/><use href="#rg"/><use href="#rh"/><use href="#ri"/><use href="#rj"/><use href="#rk"/><use href="#rl"/><use href="#ro"/><use href="#rp"/><use href="#rq"/><use href="#rs"/><use href="#rw"/><use href="#rx"/><use href="#r2"/><use href="#r4"/><use href="#r5"/><use href="#r6"/><use href="#r9"/><use href="#r10"/><use href="#r11"/><use href="#r12"/><use href="#r12b"/><use href="#r13"/><use href="#r17"/><use href="#r18"/><use href="#r19"/><text class="l" y="40.9">8</text><text class="l" y="263.6">8M</text><text class="l" y="473.2">8</text><text class="l" y="630.4">M</text><text class="l" y="787.6">1</text><text class="l" y="997.2">1M</text></g>
<g transform="translate(1860.6 0)"><use href="#rb"/><use href="#rl"/><use href="#ro"/><use href="#rp"/><use href="#rq"/><use href="#rs"/><use href="#rw"/><use href="#rx"/><use href="#r2"/><use href="#r4"/><use href="#r5"/><use href="#r6"/><use href="#r9"/><use href="#r10"/><use href="#r11"/><use href="#r12"/><use href="#r12b"/><use href="#r13"/><use href="#r16"/><use href="#r17"/><use href="#r18"/><text class="l" y="67.1">8</text><text class="l" y="473.2">8</text><text class="l" y="630.4">N</text><text class="l" y="787.6">1</text><text class="l" y="997.2">1N</text></g>
<g transform="translate(1896 0)"><use href="#rc"/><use href="#rd"/><use href="#re"/><use href="#rf"/><use href="#rg"/><use href="#rh"/><use href="#ri"/><use href="#rj"/><use href="#rk"/><use href="#rl"/><use href="#ro"/><use href="#rp"/><use href="#rq"/><use href="#rs"/><use href="#rw"/><use href="#rx"/><use href="#r2"/><use href="#r4"/><use href="#r5"/><use href="#r6"/><use href="#r9"/><use href="#r14"/><use href="#r15"/><use href="#r16"/><use href="#r17"/><text class="l" y="80.2">8</text><text class="l" y="263.6">8O</text><text class="l" y="473.2">8</text><text class="l" y="630.4">O</text><text class="l" y="787.6">1</text><text class="l" y="1075.8">1O</text></g>
<g transform="translate(1931.2 0)"><use href="#rf"/><use href="#rg"/><use href="#rq"/><use href="#rs"/><use href="#rw"/><use href="#rx"/><use href="#r2"/><use href="#r4"/><use href="#r5"/><use href="#r6"/><use href="#r6b"/><use href="#r7"/><use href="#r8"/><use href="#r9"/><use href="#r14"/><text class="l" y="263.6">8P</text><text class="l" y="473.2">8</text><text class="l" y="630.4">P</text><text class="l" y="787.6">1</text><text class="l" y="1062.7">1P</text></g>
<g transform="translate(1966.4 0)"><use href="#rf"/><use href="#rq"/><use href="#rs"/><use href="#rw"/><use href="#rx"/><use href="#r2"/><use href="#r4"/><use href="#r12b"/><use href="#r13"/><use href="#r13b"/><use href="#r14"/><text class="l" y="198.1">8Q</text><text class="l" y="473.2">8</text><text class="l" y="630.4">Q</text><text class="l" y="787.6">1</text><text class="l" y="997.2">1Q</text></g>
<g transform="translate(2001.6 0)"><use href="#rf"/><use href="#rg"/><use href="#rh"/><use href="#rq"/><use href="#rs"/><use href="#rw"/><use href="#rx"/><use href="#r2"/><use href="#r4"/><use href="#r12b"/><use href="#r13"/><use href="#r13b"/><use href="#r14"/><text class="l" y="263.6">8R</text><text class="l" y="473.2">8</text><text class="l" y="630.4">R</text><text class="l" y="787.6">1</text><text class="l" y="997.2">1R</text></g>
<g transform="translate(2036.8 0)"><use href="#rf"/><use href="#rg"/><use href="#rh"/><use href="#rq"/><use href="#t60"/><use href="#rx"/><use href="#ry"/><use href="#rz"/><use href="#r1"/><use href="#r2"/><use href="#r4"/><use href="#t33"/><use href="#r12"/><use href="#r12b"/><use href="#r13"/><use href="#r13b"/><use href="#r14"/><text class="l" y="263.6">8S</text><text class="l" y="473.2">8</text><text class="l" y="630.4">S</text><text class="l" y="787.6">1</text><text class="l" y="997.2">1S</text></g>
<g transform="translate(2072 0)"><use href="#rn"/><use href="#ro"/><use href="#rp"/><use href="#rq"/><use href="#rs"/><use href="#rw"/><use href="#rx"/><use href="#r2"/><use href="#r4"/><use href="#r5"/><use href="#r6"/><use href="#r6b"/><use href="#r7"/><text class="l" y="368.4">8T</text><text class="l" y="473.2">8</text><text class="l" y="630.4">T</text><text class="l" y="787.6">1</text><text class="l" y="892.4">1T</text></g>
<g transform="translate(2107.2 0)"><use href="#rs"/><use href="#rt"/><use href="#rv"/><use href="#rw"/><use href="#rx"/><use href="#ry"/><use href="#r1"/><use href="#r2"/><text class="l" y="473.2">8U</text><text class="l" y="630.4">U</text><text class="l" y="787.6">1U</text></g>
<path d="M2045.4 371V462.7M2063 371V462.7" stroke="#000" stroke-width="1"/>
</g>

<g id="seats-top">
<use href="#h1" x="479" y="27.8"/><use href="#h1b" x="760.6" y="27.8"/><use href="#h39" x="1007" y="27.8"/><use href="#h31" x="1147.8" y="27.8"/>
<text class="l" x="743" y="27.8">6O</text><text class="l" x="1139" y="27.8">7O</text>
<use href="#r2x" y="54"/><use href="#r2x" y="80.2"/><use href="#h8" x="1570.2" y="80.2"/>
<use href="#h9" x="567" y="119.5"/><use href="#h10" x="831" y="119.5"/><use href="#h33" x="1165.4" y="119.5"/><use href="#h35" x="1394.2" y="119.5"/>
<use href="#h9" x="567" y="145.7"/><use href="#h10" x="831" y="145.7"/><use href="#h33" x="1165.4" y="145.7"/><use href="#h35" x="1394.2" y="145.7"/>
<use href="#h9" x="567" y="171.9"/><use href="#h10" x="831" y="171.9"/><use href="#h35" x="1130.2" y="171.9"/><use href="#h35" x="1394.2" y="171.9"/>
<use href="#h9" x="567" y="198.1"/><use href="#h10" x="831" y="198.1"/><use href="#h35" x="1130.2" y="198.1"/><use href="#h35" x="1394.2" y="198.1"/>
<use href="#h9" x="567" y="224.3"/><use href="#h10" x="831" y="224.3"/><use href="#h35" x="1130.2" y="224.3"/><use href="#h35" x="1394.2" y="224.3"/>
<g class="l"><text class="l" x="549" y="119.5">6L</text><text class="l" x="549" y="145.7">6K</text><text class="l" x="549" y="171.9">6J</text><text class="l" x="549" y="198.1">6I</text><text class="l" x="549" y="224.3">6H</text>
<text class="l" x="1658" y="119.5">7L</text><text class="l" x="1658" y="145.7">7K</text><text class="l" x="1658" y="171.9">7J</text><text class="l" x="1658" y="198.1">7I</text><text class="l" x="1658" y="224.3">7H</text></g>
<text class="d" x="1112.7" y="119.5">7L</text><text class="d" x="1112.7" y="145.7">7K</text><text class="d" x="1112.7" y="171.9">7J</text><text class="d" x="1112.7" y="198.1">7I</text><text class="d" x="1112.7" y="224.3">7H</text>
<use href="#h12" x="655" y="263.6"/><use href="#h12" x="655" y="289.8"/><use href="#h12" x="655" y="316"/><use href="#h12" x="655" y="342.2"/><use href="#h12" x="655" y="368.4"/>
<use href="#h25" x="1271" y="263.6"/><use href="#h13" x="1447" y="263.6"/><use href="#h25" x="1271" y="289.8"/><use href="#h13" x="1447" y="289.8"/><use href="#h25" x="1271" y="316"/><use href="#h13" x="1447" y="316"/><use href="#h25" x="1271" y="342.2"/><use href="#h13" x="1447" y="342.2"/><use href="#h25" x="1271" y="368.4"/>
<text class="l" x="910" y="263.6">6G</text><text class="l" x="910" y="289.8">6F</text><text class="l" x="910" y="316">6E</text><text class="l" x="910" y="342.2">6D</text><text class="l" x="910" y="368.4">6C</text>
<text class="l" x="1218" y="263.6">6G</text><text class="l" x="1218" y="289.8">6F</text><text class="l" x="1218" y="316">6E</text><text class="l" x="1218" y="342.2">6D</text><text class="l" x="1218" y="368.4">6C</text>
<text class="l" x="1253.3" y="263.6">7G</text><text class="l" x="1253.3" y="289.8">7F</text><text class="l" x="1253.3" y="316">7E</text><text class="l" x="1253.3" y="342.2">7D</text><text class="l" x="1253.3" y="368.4">7C</text>
</g>

<g id="seats-bottom">
<use href="#mid" y="892.4"/><use href="#mid" y="918.6"/><use href="#mid" y="944.8"/><use href="#mid" y="971"/><use href="#mid" y="997.2"/>
<text class="l" x="875" y="892.4">3C</text><text class="l" x="875" y="918.6">3D</text><text class="l" x="875" y="944.8">3E</text><text class="l" x="875" y="971">3F</text><text class="l" x="875" y="997.2">3G</text>
<text class="l" x="910.2" y="892.4">2C</text><text class="l" x="910.2" y="918.6">2D</text><text class="l" x="910.2" y="944.8">2E</text><text class="l" x="910.2" y="971">2F</text><text class="l" x="910.2" y="997.2">2G</text>
<text class="l" x="1051.4" y="892.4">2C</text><text class="l" x="1051.4" y="918.6">2D</text><text class="l" x="1051.4" y="944.8">2E</text><text class="l" x="1051.4" y="971">2F</text><text class="l" x="1051.4" y="997.2">2G</text>
<text class="l" x="1226.7" y="892.4">2C</text><text class="l" x="1226.7" y="918.6">2D</text><text class="l" x="1226.7" y="944.8">2E</text><text class="l" x="1226.7" y="971">2F</text><text class="l" x="1226.7" y="997.2">2G</text>
<use href="#h48" x="1253.4" y="892.4"/><use href="#h56" x="1394.2" y="892.4"/><text class="l" x="1438.2" y="892.4">2</text>
<use href="#h48" x="1253.4" y="918.6"/><use href="#h56" x="1394.2" y="918.6"/><use href="#h58" x="1429.4" y="918.6"/><text class="l" x="1491" y="918.6">2</text>
<g class="h" transform="translate(0 944.8)"><rect x="1253.4"/><text x="1262.2">48</text><rect x="1464.6"/><text x="1473.4">60</text><text class="l" x="1491">2</text></g>
<g class="h" transform="translate(0 971)"><rect x="1253.4"/><text x="1262.2">48</text><rect x="1464.6"/><text x="1473.4">60</text><text class="l" x="1491">2</text></g>
<use href="#h48" x="1253.4" y="997.2"/><use href="#h56" x="1394.2" y="997.2"/><use href="#h58" x="1429.4" y="997.2"/><text class="l" x="1491" y="997.2">2</text>

<g class="h" transform="translate(0 1036.5)"><text class="l" x="523">H</text><use href="#s6"/><use href="#s19"/><use href="#s22"/><use href="#s38"/><use href="#s51"/><use href="#h54" x="1359"/><use href="#w8" x="901.4"/><text x="910.2">28</text><text x="927.8">29</text><text x="945.4">30</text><text x="963">31</text><text x="980.6">32</text><text x="998.2">33</text><text x="1015.8">34</text><text x="1033.4">35</text><text class="l" x="1051.4">3H</text><text class="l" x="1614.2">2H</text></g>
<g class="h" transform="translate(0 1062.7)"><text class="l" x="523">I</text><use href="#j6" x="531.8"/><use href="#s19"/><use href="#s22"/><rect x="901.4"/><text x="910.2">28</text><rect x="919"/><text x="927.8">29</text><use href="#s35"/><use href="#s38"/><use href="#s51"/><use href="#s54"/><use href="#s67"/><text class="l" x="1051.4">3I</text><text class="l" x="1614.2">2I</text></g>
<g class="h" transform="translate(0 1088.9)"><text class="l" x="523">J</text><use href="#j6" x="531.8"/><use href="#s19"/><use href="#w8" x="795.8"/><text x="804.6">22</text><text x="822.2">23</text><text x="839.8">24</text><text x="857.4">25</text><text x="875">26</text><text x="892.6">27</text><text x="910.2">28</text><text x="927.8">29</text><use href="#s35"/><use href="#s38"/><use href="#s51"/><use href="#s54"/><use href="#s67"/><text class="l" x="1051.4">3J</text><text class="l" x="1614.2">2J</text></g>
<g class="h" transform="translate(0 1115.1)"><text class="l" x="523">K</text><use href="#s6"/><use href="#s19"/><use href="#s22"/><use href="#s35"/><use href="#s38"/><use href="#s51"/><use href="#h54" x="1359"/><text class="l" x="1051.4">3K</text><text class="l" x="1614.2">2K</text></g>
<g class="h" transform="translate(0 1141.3)"><text class="l" x="523">L</text><use href="#s6"/><use href="#s19"/><use href="#s22"/><use href="#s35"/><use href="#s38"/><rect x="1535"/><text x="1543.8">64</text><use href="#w3" x="1552.6"/><text x="1561.4">65</text><text x="1579">66</text><text x="1596.6">67</text><text class="l" x="1051.4">3L</text><text class="l" x="1614.2">2L</text></g>

<g class="h" transform="translate(0 1180.6)"><use href="#w13" x="443.8"/><text x="452.6">1</text><text x="487.8">4</text><text x="505.4">5</text><text x="523">6</text><text x="540.6">7</text><text x="558.2">8</text><text x="575.8">9</text><text x="593.4">10</text><text x="611">11</text><text x="628.6">12</text><text x="646.2">13</text><text x="663.8">14</text><text class="l" x="681.4">3</text><rect x="690.2"/><text x="699">17</text><rect x="883.8"/><text x="892.6">28</text><text class="l" x="919">3M</text><use href="#h31b" x="936.6"/><text class="l" x="1218">2M</text><rect x="1235.8"/><text x="1244.6">45</text><use href="#w3" x="1640.6"/><text x="1649.4">69</text><text x="1684.6">72</text></g>
<g class="h" transform="translate(0 1206.8)"><use href="#w2" x="496.6"/><text x="505.4">5</text><text x="523">6</text><rect x="655"/><text x="663.8">14</text><text class="l" x="681.4">3</text><rect x="690.2"/><text x="699">17</text><rect x="883.8"/><text x="892.6">28</text><text class="l" x="919">3N</text><rect x="936.6"/><text x="945.4">31</text><rect x="1130.2"/><text x="1139">42</text><text class="l" x="1218">2N</text><use href="#w12" x="1235.8"/><text x="1244.6">45</text><text x="1262.2">46</text><text x="1279.8">47</text><text x="1297.4">48</text><text x="1315">49</text><text x="1332.6">50</text><text x="1350.2">51</text><text x="1367.8">52</text><text x="1385.4">53</text><text x="1403">54</text><text x="1420.6">55</text><text x="1438.2">56</text><text class="l" x="1455.8">2</text><use href="#w10" x="1464.6"/><text x="1473.4">59</text><text x="1491">60</text><text x="1508.6">61</text><text x="1526.2">62</text><text x="1543.8">63</text><text x="1561.4">64</text><text x="1579">65</text><text x="1596.6">66</text><text x="1614.2">67</text><text x="1631.8">68</text></g>
<g class="h" transform="translate(0 1233)"><rect x="514.2"/><text x="523">6</text><rect x="655"/><text x="663.8">14</text><text class="l" x="681.4">3</text><use href="#w12" x="690.2"/><text x="699">17</text><text x="716.6">18</text><text x="734.2">19</text><text x="751.8">20</text><text x="769.4">21</text><text x="787">22</text><text x="804.6">23</text><text x="822.2">24</text><text x="839.8">25</text><text x="857.4">26</text><text x="875">27</text><text x="892.6">28</text><text class="l" x="919">3O</text><use href="#h31b" x="936.6"/><text class="l" x="1218">2O</text><rect x="1235.8"/><text x="1244.6">45</text><rect x="1429.4"/><text x="1438.2">56</text><text class="l" x="1455.8">2</text><use href="#w9" x="1464.6"/><text x="1473.4">59</text><text x="1491">60</text><text x="1508.6">61</text><text x="1526.2">62</text><text x="1543.8">63</text><text x="1561.4">64</text><text x="1579">65</text><text x="1596.6">66</text><text x="1614.2">67</text></g>
<g class="h" transform="translate(0 1259.2)"><use href="#w3" x="514.2"/><text x="523">6</text><text x="540.6">7</text><text x="558.2">8</text><use href="#w6" x="584.6"/><text x="593.4">10</text><text x="611">11</text><text x="628.6">12</text><text x="646.2">13</text><text x="663.8">14</text><text x="681.4">15</text><text class="l" x="699">3</text><use href="#w6" x="707.8"/><text x="716.6">18</text><text x="734.2">19</text><text x="751.8">20</text><text x="769.4">21</text><text x="787">22</text><text x="804.6">23</text><use href="#w6" x="848.6"/><text x="857.4">26</text><text x="875">27</text><text x="892.6">28</text><text x="910.2">29</text><text x="927.8">30</text><text x="945.4">31</text><text class="l" x="963">3P</text><use href="#w8" x="971.8"/><text x="980.6">33</text><text x="998.2">34</text><text x="1015.8">35</text><text x="1033.4">36</text><text x="1051">37</text><text x="1068.6">38</text><text x="1086.2">39</text><text x="1103.8">40</text><use href="#w6" x="1183"/><text x="1191.8">42</text><text x="1209.4">43</text><text x="1227">44</text><text x="1244.6">45</text><text x="1262.2">46</text><text x="1279.8">47</text><text class="l" x="1306">2P</text><use href="#w6" x="1323.8"/><text x="1332.6">50</text><text x="1350.2">51</text><text x="1367.8">52</text><text x="1385.4">53</text><text x="1403">54</text><text x="1420.6">55</text><text class="l" x="1438.2">2</text><use href="#w6" x="1447"/><text x="1455.8">58</text><text x="1473.4">59</text><text x="1491">60</text><text x="1508.6">61</text><text x="1526.2">62</text><text x="1543.8">63</text><use href="#w3" x="1570.2"/><text x="1579">65</text><text x="1596.6">66</text><text x="1614.2">67</text></g>
</g>

<g id="outlines" class="t">
<use href="#by"/><use href="#bp"/><use href="#bo"/><use href="#bc"/>
</g>

<g id="names-vertical">
<text class="z" x="311" y="239.5">林大輝中學</text>
<text class="z" x="214" y="332.5">啓思小學</text>
<text class="z" x="248.7" y="500.5">九龍塘天主教</text>
<text class="z" x="232" y="516.5">華德學校</text>
<text class="z" x="311" y="466.5">寶血會嘉靈學校</text>
<text class="z" x="248.7" y="674.5">香港天賦</text>
<text class="z" x="232" y="666.5">幼青體育會</text>
<text class="z" x="326.6" y="951.5">嘉諾撒</text>
<text class="z" x="311" y="944.5">聖家學校</text>
<text class="z" x="294.6" y="935">（九龍塘）</text>
<text class="z" x="1577" y="323.5">廣州市荔灣區</text>
<text class="z" x="1561" y="340.5">怡樂實驗</text>
<text class="z" x="1545" y="348.5">幼兒園</text>
<text class="z" x="1675" y="323.5">佛山市南海區</text>
<text class="z" x="1658.7" y="315.5">獅山中心幼兒園</text>
<text class="z" x="1509" y="405.5">廣州市荔灣怡樂藝術幼兒園</text>
<text class="z" x="1587" y="494.5">廣州市荔灣區</text>
<text class="z" x="1570.6" y="502.5">花地幼兒園</text>
<text class="z" x="1675" y="510.5">廣州荔灣</text>
<text class="z" x="1659" y="502.5">環翠園小學</text>
<text class="z" x="1720" y="471" style="letter-spacing:1.5px">廣州荔灣少年業餘體校</text>
<text class="z" x="1843" y="508.5">劍鳴幼稚園</text>
<text class="z" x="1929.6" y="525.5">嘉諾撒</text>
<text class="z" x="1913.8" y="516.5">聖心學校</text>
<text class="z" x="1897.5" y="525.5">私立部</text>
<text class="z" x="1992.8" y="508.5">嘉諾撒小學</text>
<text class="z" x="1975.7" y="508.5">（新蒲崗）</text>
<text class="z" x="2081" y="525.5">陳樹渠</text>
<text class="z" x="2064.6" y="516.5">紀念中學</text>
<text class="z" x="1587" y="673.5">大埔浸信會</text>
<text class="z" x="1570.6" y="688.5">幼稚園</text>
<text class="z" x="1851" y="682.5">塘尾道</text>
<text class="z" x="1836" y="675.5">官立小學</text>
<text class="z" x="1921" y="682.5">五旬節</text>
<text class="z" x="1905" y="666.5">靳茂生小學</text>
<text class="z" x="1993" y="650.5">大埔循道衛理小</text>
<text class="z" x="1976" y="699.5">學</text>
<text class="z" x="2089" y="683.5">十八鄉</text>
<text class="z" x="2072" y="666.5">鄉事委員會</text>
<text class="z" x="2056" y="666.5">公益社小學</text>
<text class="z" x="1623" y="845.5">美善幼稚園</text>
<text class="z" x="1640" y="860.5">崇真會</text>
<text class="z" x="1984" y="833.5">體育先鋒體操隊</text>
<text class="z" x="1912" y="926.5">香港培正小學</text>
<text class="z" x="1842.7" y="1010.5">喇沙小學</text>
<text class="z" x="1860" y="158">嘉諾撒聖家學校</text>
<text class="z" x="1931" y="301.5">天神嘉諾撒學校</text>
<text class="z" x="1966" y="235.5">樂善堂梁銶琚學校（分校）</text>
<text class="z" x="2027" y="316.5">佐敦谷聖若瑟</text>
<text class="z" x="2011" y="325.5">天主教小學</text>
</g>

<g id="names-horizontal">
<text class="k" x="1367.5" y="952.2">基督教宣道會香港區聯會</text>
<text class="k" x="1367.5" y="967.5">將軍澳宣道幼稚園</text>
<text class="k" x="681" y="1077.2">東華三院馬錦燦紀念小學</text>
<text class="k" x="654.4" y="1130.5">海壩街官立小學</text>
<text class="k" x="857.5" y="1044.5">聖公會青衣邨</text>
<text class="k" x="857.5" y="1059.5">何澤芸小學</text>
<text class="k" x="980" y="1069.5">愛秩序灣</text>
<text class="k" x="980" y="1085.5">官立小學</text>
<text class="k" x="919.6" y="1131.2">馬頭涌官立小學</text>
<text class="k" x="593.8" y="1222.2">馬鞍山靈糧小學</text>
<text class="k" x="796" y="1196.2">農圃道官立小學</text>
<text class="k" x="1041.7" y="1208.5">香港藝術體操協會</text>
<text class="k" x="1341.8" y="1234.5">聖公會基愛小學</text>
<text x="654.4" y="1037">Wingo Sports</text>
<text class="e" x="1218" y="1050.2">Kidnetic - Synergym</text>
<text class="e" x="1218" y="1103.5">Kidnetic - <tspan font-family="Noto Sans CJK TC">親子組</tspan></text>
<text class="e" x="1482" y="1077" style="font-size:14px">Kidnetic - Kidsgym</text>
<text x="1324" y="1141.4" style="font-size:10.3px">Kidnetic - Golden Angeles Cheerleading Junior Team</text>
<text x="1447" y="1180.4" style="font-size:10.3px">Kidnetic - Golden Angeles Cheerleading Kids Team</text>
<text class="k" x="1068" y="318" style="font-size:18px">裁判席 及 嘉賓席</text>
<text class="k" x="1148" y="133.5" style="font-size:15.6px">錄影</text>
<text class="k" x="1069" y="605" style="font-size:34px;fill:#222">中央場地</text>
<text x="1069" y="648" style="font-size:34px">Central-Court</text>
<text x="1447" y="431" style="font-size:46px;fill:#000">A</text>
<text x="1447" y="852" style="font-size:46px;fill:#000">B</text>
<text x="654" y="431" style="font-size:46px;fill:#000">C</text>
<text x="654" y="852" style="font-size:46px;fill:#000">D</text>
<text class="e" transform="translate(308 731.5) rotate(-90)">Champion Super Power</text>
<text class="e" transform="translate(324 731) rotate(-90)">Gymnastic Training Company</text>
<text class="e" transform="translate(1714 712) rotate(90)" style="font-size:14px">Gina Group</text>
<text class="e" transform="translate(14 480) rotate(-90)">Section 5 (389 seaters)</text>
<text class="e" transform="translate(14 794) rotate(-90)">Section 4 (396 seaters)</text>
<text class="e" transform="translate(2135 473) rotate(90)">Section 8 (413 seats)</text>
<text class="e" transform="translate(2135 787) rotate(90)">Section 1 (413 seats)</text>
</g>
</svg>
